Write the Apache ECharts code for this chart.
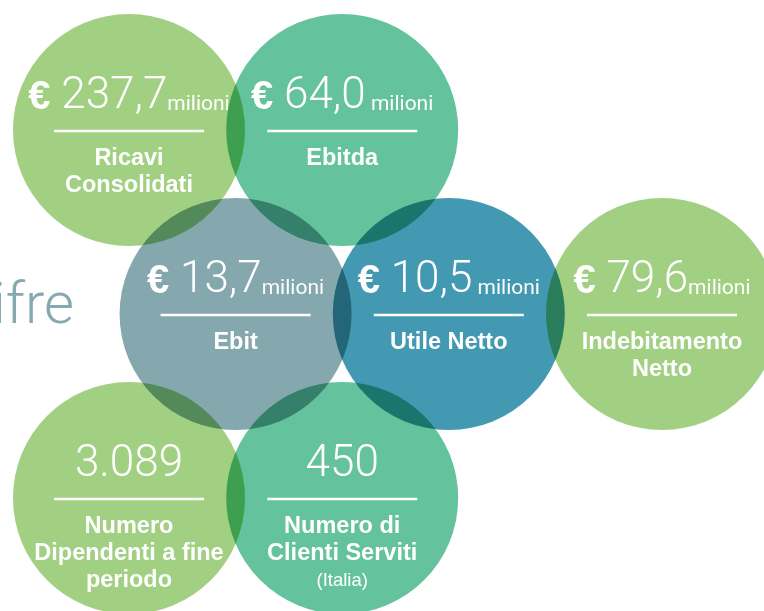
<!DOCTYPE html>
<html>
<head>
<meta charset="utf-8">
<script src="https://cdn.jsdelivr.net/npm/echarts@6/dist/echarts.min.js"></script>
<style>
html, body { margin: 0; padding: 0; background: #fff; }
#main { width: 764px; height: 611px; }
</style>
</head>
<body>
<div id="main"></div>
<script>
// key figures, one entry per bubble
var prefix = ['€', '€', '€', '€', '€', '', ''];
var values = ['237,7', '64,0', '13,7', '10,5', '79,6', '3.089', '450'];
var units = ['milioni', ' milioni', 'milioni', ' milioni', 'milioni', '', ''];
var labels = [
    'Ricavi\nConsolidati',
    'Ebitda',
    'Ebit',
    'Utile Netto',
    'Indebitamento\nNetto',
    'Numero\nDipendenti a fine\nperiodo',
    'Numero di\nClienti Serviti'
];
var notes = ['', '', '', '', '', '', '(Italia)'];
// bubble grid slots (column, row)
var cols = [0, 2, 1, 3, 5, 0, 2];
var rows = [0, 0, 1, 1, 1, 2, 2];
var palette = ['#a1d083', '#64c39c', '#85a8ae', '#4299b1', '#a1d083', '#a1d083', '#64c39c'];

var chart = echarts.init(document.getElementById('main'));

var pts = cols.map(function (c, i) { return [c, rows[i]]; });

var richHead = {
    e: { fontFamily: 'Liberation Sans', fontWeight: 'bold', fontSize: 40, fill: '#fff', verticalAlign: 'bottom', padding: [0, 0, 1, 0] },
    v: { fontFamily: 'Roboto', fontWeight: 300, fontSize: 44, fill: '#fff', verticalAlign: 'bottom' },
    u: { fontFamily: 'Roboto', fontWeight: 400, fontSize: 21, fill: '#fff', verticalAlign: 'bottom', padding: [0, 0, 4, 0] }
};
var richLabel = {
    b: { fontFamily: 'Liberation Sans', fontWeight: 'bold', fontSize: 23.5, lineHeight: 27, fill: '#fff' },
    s: { fontFamily: 'Liberation Sans', fontSize: 18.5, lineHeight: 26, fill: '#fff' }
};

function renderItem(params, api) {
    var i = params.dataIndex;
    var p = api.coord([api.value(0), api.value(1)]);
    var cx = p[0], cy = p[1];
    var head = prefix[i]
        ? '{e|' + prefix[i] + '}{v| ' + values[i] + '}{u|' + units[i] + '}'
        : '{v|' + values[i] + '}';
    var lines = labels[i].split('\n').map(function (s) { return '{b|' + s + '}'; });
    if (notes[i]) lines.push('{s|' + notes[i] + '}');
    return {
        type: 'group',
        children: [
            {
                type: 'text', x: cx, y: cy - 11,
                style: { text: head, align: 'center', verticalAlign: 'bottom', fill: '#fff', rich: richHead }
            },
            {
                type: 'line',
                shape: { x1: cx - 75, y1: cy + 1, x2: cx + 75, y2: cy + 1 },
                style: { stroke: '#fff', lineWidth: 2.5 }
            },
            {
                type: 'text', x: cx, y: cy + 15.5,
                style: { text: lines.join('\n'), align: 'center', verticalAlign: 'top', fill: '#fff', rich: richLabel }
            }
        ]
    };
}

var option = {
    backgroundColor: '#fff',
    animation: false,
    title: {
        text: 'Le cifre',
        right: 690,
        top: 279,
        padding: 0,
        textStyle: { fontFamily: 'Roboto', fontWeight: 300, fontSize: 58, color: '#84aab0' }
    },
    grid: { left: 129, right: 102, top: 130, bottom: 113 },
    xAxis: { type: 'value', min: 0, max: 5, show: false },
    yAxis: { type: 'value', min: 0, max: 2, inverse: true, show: false },
    series: [
        {
            type: 'scatter',
            data: pts,
            symbolSize: 232,
            clip: false,
            silent: true,
            z: 2,
            blendMode: 'multiply',
            itemStyle: {
                opacity: 1,
                color: function (p) { return palette[p.dataIndex]; }
            },
            emphasis: { disabled: true }
        },
        {
            type: 'custom',
            data: pts,
            silent: true,
            clip: false,
            z: 10,
            renderItem: renderItem
        }
    ]
};
chart.setOption(option);
</script>
</body>
</html>
